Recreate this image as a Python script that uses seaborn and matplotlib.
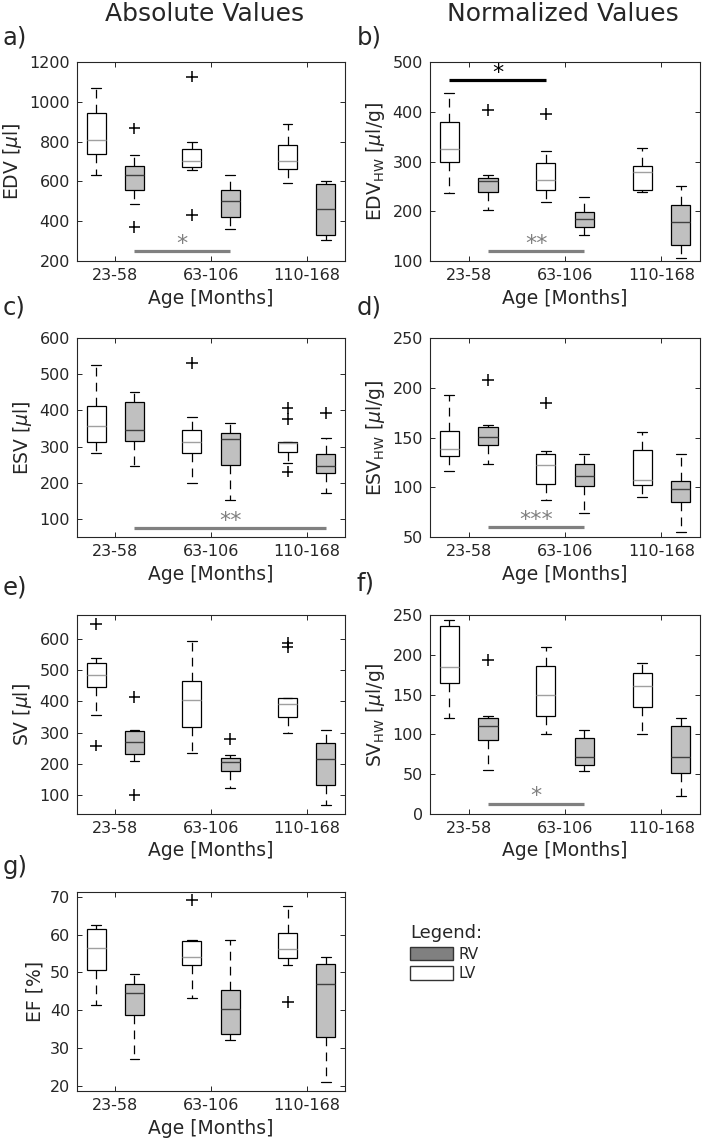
import numpy as np
import pandas as pd
import matplotlib
matplotlib.use("Agg")
import matplotlib.pyplot as plt
from matplotlib.patches import Patch
import seaborn as sns

# --- data ---
age_groups = ["23-58", "63-106", "110-168"]
sides = ["LV", "RV"]

# each row: [lower whisker, Q1, median, Q3, upper whisker] for one age group
edv_lv = [[630, 736, 810, 942, 1068], [657, 672, 704, 762, 799], [590, 660, 704, 783, 888]]
edv_rv = [[487, 559, 632, 677, 731], [362, 421, 502, 559, 632], [306, 332, 463, 588, 601]]
edv_lv_out = [[], [1127, 433], []]
edv_rv_out = [[866, 369], [], []]

edvhw_lv = [[236, 300, 325, 379, 438], [219, 242, 263, 296, 321], [238, 242, 279, 291, 327]]
edvhw_rv = [[203, 238, 261, 267, 273], [152, 169, 185, 198, 229], [107, 133, 178, 212, 250]]
edvhw_lv_out = [[], [396], []]
edvhw_rv_out = [[403], [], []]

esv_lv = [[281, 313, 357, 411, 525], [200, 281, 313, 345, 383], [255, 284, 309, 313, 313]]
esv_rv = [[247, 316, 346, 423, 450], [151, 249, 321, 337, 364], [171, 228, 246, 280, 323]]
esv_lv_out = [[], [530], [407, 376, 231]]
esv_rv_out = [[], [], [393]]

esvhw_lv = [[116, 131, 138, 157, 193], [87, 103, 122, 133, 136], [90, 102, 107, 137, 156]]
esvhw_rv = [[123, 142, 151, 161, 163], [74, 101, 111.5, 123, 133], [55, 85, 98, 106, 133]]
esvhw_lv_out = [[], [185], []]
esvhw_rv_out = [[208], [], []]

sv_lv = [[356, 448, 485, 525, 540], [234, 318, 406, 467, 594], [300, 349, 392, 410, 410]]
sv_rv = [[209, 230, 271, 304, 307], [123, 177, 205, 217, 229], [68, 132, 215, 267, 309]]
sv_lv_out = [[648, 258], [], [589, 576]]
sv_rv_out = [[415, 100], [280], []]

svhw_lv = [[120, 165, 185, 236, 244], [101, 123, 149, 186, 210], [101, 135, 161, 177, 190]]
svhw_rv = [[55, 93, 110, 120, 123], [54, 62, 71, 96, 106], [23, 51, 72, 110, 121]]
svhw_lv_out = [[], [], []]
svhw_rv_out = [[193], [], []]

ef_lv = [[41.4, 50.7, 56.5, 61.5, 62.6], [43.2, 52.1, 54.0, 58.3, 58.5], [52.0, 53.8, 56.3, 60.4, 67.7]]
ef_rv = [[27.2, 38.6, 44.5, 47.0, 49.5], [32.2, 33.7, 40.4, 45.3, 58.6], [21.1, 32.8, 47.0, 52.3, 54.2]]
ef_lv_out = [[], [69.1], [42.3]]
ef_rv_out = [[], [], []]

# significance bars: panel, (group, side) -> (group, side), y, stars, colour
sig_bars = [
    ("a)", ("23-58", "RV"), ("63-106", "RV"), 250, "*", "#808080"),
    ("b)", ("23-58", "LV"), ("63-106", "LV"), 463, "*", "black"),
    ("b)", ("23-58", "RV"), ("63-106", "RV"), 120, "**", "#808080"),
    ("c)", ("23-58", "RV"), ("110-168", "RV"), 75, "**", "#808080"),
    ("d)", ("23-58", "RV"), ("63-106", "RV"), 60, "***", "#808080"),
    ("f)", ("23-58", "RV"), ("63-106", "RV"), 13, "*", "#808080"),
]

# --- layout (figure fractions) ---
W, H = 703, 1141
col_left = [77 / W, 430 / W]
col_width = [268 / W, 270 / W]
row_bottom = [1 - 261 / H, 1 - 537 / H, 1 - 814 / H, 1 - 1091 / H]
row_height = 199 / H

panels = [
    ("a)", 0, 0, edv_lv, edv_rv, edv_lv_out, edv_rv_out, r"EDV [$\mu$l]", (200, 1200), np.arange(200, 1201, 200)),
    ("b)", 0, 1, edvhw_lv, edvhw_rv, edvhw_lv_out, edvhw_rv_out, r"EDV$_{\mathrm{HW}}$ [$\mu$l/g]", (100, 500), np.arange(100, 501, 100)),
    ("c)", 1, 0, esv_lv, esv_rv, esv_lv_out, esv_rv_out, r"ESV [$\mu$l]", (50, 600), np.arange(100, 601, 100)),
    ("d)", 1, 1, esvhw_lv, esvhw_rv, esvhw_lv_out, esvhw_rv_out, r"ESV$_{\mathrm{HW}}$ [$\mu$l/g]", (50, 250), np.arange(50, 251, 50)),
    ("e)", 2, 0, sv_lv, sv_rv, sv_lv_out, sv_rv_out, r"SV [$\mu$l]", (38, 678), np.arange(100, 601, 100)),
    ("f)", 2, 1, svhw_lv, svhw_rv, svhw_lv_out, svhw_rv_out, r"SV$_{\mathrm{HW}}$ [$\mu$l/g]", (0, 250), np.arange(0, 251, 50)),
    ("g)", 3, 0, ef_lv, ef_rv, ef_lv_out, ef_rv_out, "EF [%]", (18.6, 71.3), np.arange(20, 71, 10)),
]

label_pos = {"a)": (3, 37), "b)": (357, 37), "c)": (3, 308), "d)": (357, 308),
             "e)": (3, 587), "f)": (357, 584), "g)": (3, 867)}

text_col = "#262626"
box_fill = {"LV": "white", "RV": "#c0c0c0"}
median_col = {"LV": "#a0a0a0", "RV": "#404040"}
side_offset = {"LV": -0.2, "RV": 0.2}


def long_frame(lv, rv):
    rows = []
    for side, stats in (("LV", lv), ("RV", rv)):
        for grp, vals in zip(age_groups, stats):
            for v in vals:
                rows.append((grp, side, v))
    return pd.DataFrame(rows, columns=["age", "side", "value"])


sns.set_style("ticks", {"xtick.direction": "in", "ytick.direction": "in",
                        "axes.edgecolor": text_col, "text.color": text_col,
                        "axes.labelcolor": text_col, "xtick.color": text_col,
                        "ytick.color": text_col})
plt.rcParams["font.family"] = ["DejaVu Sans"]

fig = plt.figure(figsize=(W / 100, H / 100), dpi=100)

axes = {}
for key, r, c, lv, rv, lv_out, rv_out, ylab, ylim, yticks in panels:
    ax = fig.add_axes([col_left[c], row_bottom[r], col_width[c], row_height])
    axes[key] = ax
    df = long_frame(lv, rv)
    for side in sides:
        sns.boxplot(data=df[df["side"] == side], x="age", y="value", hue="side",
                    order=age_groups, hue_order=sides, palette=box_fill,
                    dodge=True, width=0.8, gap=0.5, whis=(0, 100),
                    showfliers=False, saturation=1, linewidth=0.9,
                    linecolor="black",
                    medianprops={"color": median_col[side], "linewidth": 1.0},
                    whiskerprops={"linestyle": (0, (7, 5))},
                    legend=False, ax=ax)
    out_df = long_frame(lv_out, rv_out)
    if not out_df.empty:
        sns.stripplot(data=out_df, x="age", y="value", hue="side",
                      order=age_groups, hue_order=sides, dodge=True, jitter=False,
                      marker="+", size=8.5, linewidth=1.1, edgecolor="black",
                      palette={"LV": "black", "RV": "black"}, legend=False,
                      ax=ax, zorder=3)

    ax.set_xlim(-0.4, 2.4)
    ax.set_ylim(*ylim)
    ax.set_yticks(yticks)
    ax.set_xticks(range(len(age_groups)))
    ax.set_xticklabels(age_groups)
    ax.set_xlabel("Age [Months]", fontsize=13.5, labelpad=4)
    ax.set_ylabel(ylab, fontsize=13.5)
    ax.tick_params(direction="in", top=True, right=True, length=3.5,
                   width=0.7, labelsize=11.5, pad=5)
    for sp in ax.spines.values():
        sp.set_visible(True)
        sp.set_linewidth(0.8)
        sp.set_color(text_col)

    lx, ly = label_pos[key]
    fig.text(lx / W, 1 - ly / H, key, fontsize=17.5, ha="left", va="center")

# significance bars
for key, (g1, s1), (g2, s2), y, stars, col in sig_bars:
    ax = axes[key]
    x1 = age_groups.index(g1) + side_offset[s1]
    x2 = age_groups.index(g2) + side_offset[s2]
    ax.plot([x1, x2], [y, y], color=col, linewidth=2.3, solid_capstyle="butt", zorder=4)
    ax.annotate(stars, xy=((x1 + x2) / 2, y), xytext=(0, -2), textcoords="offset points",
                ha="center", va="bottom", fontsize=16, color=col)

fig.text(205 / W, 1 - 14 / H, "Absolute Values", fontsize=18, ha="center", va="center")
fig.text(563 / W, 1 - 14 / H, "Normalized Values", fontsize=18, ha="center", va="center")

handles = [Patch(facecolor="#808080", edgecolor="#333333", linewidth=1, label="RV"),
           Patch(facecolor="white", edgecolor="#333333", linewidth=1, label="LV")]
leg = fig.legend(handles=handles, title="Legend:", loc="upper left",
                 bbox_to_anchor=(410 / W, 1 - 924 / H), frameon=False,
                 fontsize=11, title_fontsize=13, alignment="left",
                 handlelength=2.8, handleheight=0.95, handletextpad=0.35,
                 labelspacing=0.3, borderpad=0, borderaxespad=0)

fig.savefig("out.png", dpi=100)
